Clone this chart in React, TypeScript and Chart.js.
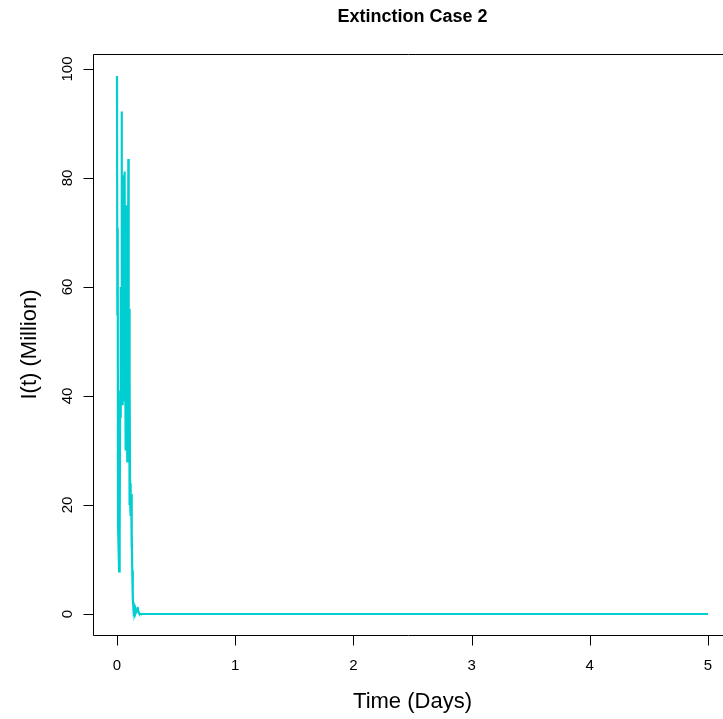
import React, { useEffect, useRef } from "react";
import { Chart, registerables } from "chart.js";

Chart.register(...registerables);

const chartTitle = "Extinction Case 2";
const xLabel = "Time (Days)";
const yLabel = "I(t) (Million)";

const timeDays = [
  0, 0.003, 0.006, 0.009, 0.012, 0.015, 0.018, 0.021, 0.024, 0.027,
  0.03, 0.033, 0.036, 0.039, 0.042, 0.045, 0.048, 0.051, 0.054, 0.057,
  0.06, 0.063, 0.066, 0.069, 0.072, 0.075, 0.078, 0.081, 0.084, 0.087,
  0.09, 0.093, 0.096, 0.099, 0.102, 0.105, 0.108, 0.111, 0.114, 0.117,
  0.12, 0.123, 0.126, 0.129, 0.132, 0.135, 0.14, 0.145, 0.15, 0.155,
  0.16, 0.165, 0.17, 0.175, 0.18, 0.185, 0.19, 0.195, 0.2, 0.5,
  1, 1.5, 2, 2.5, 3, 3.5, 4, 4.5, 5,
];

const infectedMillion = [
  98.7, 55, 70.8, 16, 30, 12, 7.8, 22, 15, 41,
  36, 60, 44, 92.2, 62, 38.5, 71, 45, 80.5, 39,
  76, 52, 81.2, 48, 60, 30, 70, 44, 75, 28,
  66, 40, 83.5, 35, 56, 20, 44, 20.5, 24, 18,
  22, 12, 15, 8, 5, 3, 0.7, 1.2, 0.4, 0.9,
  0.3, 0.6, 0.8, 1.3, 0.4, 0.2, 0.1, 0.05, 0, 0,
  0, 0, 0, 0, 0, 0, 0, 0, 0,
];

const xTicks = [0, 1, 2, 3, 4, 5];
const yTicks = [0, 20, 40, 60, 80, 100];

const FONT = '"Liberation Sans", Arial, Helvetica, sans-serif';

const rAxesPlugin = {
  id: "rAxes",
  afterDraw(chart: any) {
    const { ctx, chartArea } = chart;
    const xs = chart.scales.x;
    const ys = chart.scales.y;
    ctx.save();
    ctx.strokeStyle = "#000";
    ctx.lineWidth = 1;
    const L = Math.round(chartArea.left) + 0.5;
    const T = Math.round(chartArea.top) + 0.5;
    const B = Math.round(chartArea.bottom) + 0.5;
    const R = Math.round(chartArea.right) + 0.5;
    // box
    ctx.beginPath();
    ctx.moveTo(R, T);
    ctx.lineTo(L, T);
    ctx.lineTo(L, B);
    ctx.lineTo(R, B);
    ctx.stroke();

    // x axis ticks
    ctx.fillStyle = "#000";
    ctx.font = `15px ${FONT}`;
    ctx.textAlign = "center";
    ctx.textBaseline = "alphabetic";
    ctx.beginPath();
    for (const v of xTicks) {
      const px = Math.round(xs.getPixelForValue(v)) + 0.5;
      ctx.moveTo(px, B);
      ctx.lineTo(px, B + 10);
    }
    ctx.stroke();
    for (const v of xTicks) {
      const px = xs.getPixelForValue(v);
      ctx.fillText(String(v), px, 670);
    }

    // y axis ticks
    ctx.beginPath();
    for (const v of yTicks) {
      const py = Math.round(ys.getPixelForValue(v)) + 0.5;
      ctx.moveTo(L, py);
      ctx.lineTo(L - 10, py);
    }
    ctx.stroke();
    for (const v of yTicks) {
      const py = ys.getPixelForValue(v);
      ctx.save();
      ctx.translate(72, py);
      ctx.rotate(-Math.PI / 2);
      ctx.fillText(String(v), 0, 0);
      ctx.restore();
    }

    // plot-box centre (R box spans 4% beyond data range)
    const boxLeft = xs.getPixelForValue(-0.2);
    const boxRight = xs.getPixelForValue(5.2);
    const cx = (boxLeft + boxRight) / 2;
    const cy = (chartArea.top + chartArea.bottom) / 2;

    // axis titles
    ctx.font = `22px ${FONT}`;
    ctx.fillText(xLabel, cx, 708);
    ctx.save();
    ctx.translate(36, cy);
    ctx.rotate(-Math.PI / 2);
    ctx.fillText(yLabel, 0, 0);
    ctx.restore();

    // main title
    ctx.font = `bold 18px ${FONT}`;
    ctx.fillText(chartTitle, cx, 21.5);
    ctx.restore();
  },
};

export default function App() {
  const ref = useRef<HTMLCanvasElement | null>(null);
  useEffect(() => {
    if (!ref.current) return;
    const points = timeDays.map((t, i) => ({ x: t, y: infectedMillion[i] }));
    const chart = new Chart(ref.current, {
      type: "line",
      data: {
        datasets: [
          {
            data: points,
            borderColor: "rgb(0,206,209)",
            borderWidth: 2.2,
            pointRadius: 0,
            tension: 0,
            fill: false,
          },
        ],
      },
      options: {
        animation: false,
        responsive: false,
        devicePixelRatio: 1,
        layout: { padding: { left: 93, top: 54, right: 0, bottom: 84 } },
        scales: {
          x: { type: "linear", min: -0.203, max: 5.127, display: false },
          y: { type: "linear", min: -3.85, max: 102.75, display: false },
        },
        plugins: {
          legend: { display: false },
          tooltip: { enabled: false },
          title: { display: false },
        },
      },
      plugins: [rAxesPlugin],
    });
    return () => chart.destroy();
  }, []);
  return (
    <div
      style={{
        position: "fixed",
        left: 0,
        top: 0,
        width: 723,
        height: 719,
        background: "#fff",
        overflow: "hidden",
      }}
    >
      <canvas ref={ref} width={723} height={719} style={{ display: "block" }} />
    </div>
  );
}
